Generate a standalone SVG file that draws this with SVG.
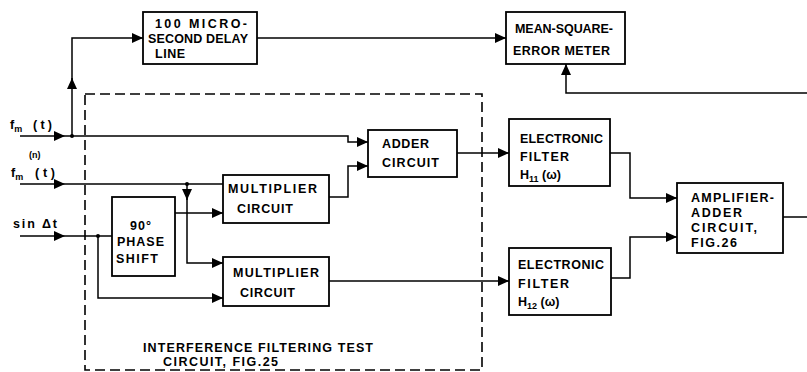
<svg xmlns="http://www.w3.org/2000/svg" width="807" height="372" viewBox="0 0 807 372">
<style>
.box{fill:#fff;stroke:#000;stroke-width:1.8}
.ln{fill:none;stroke:#000;stroke-width:1.5}
.dash{fill:none;stroke:#000;stroke-width:1.6;stroke-dasharray:10 5}
text{font-family:"Liberation Sans",Arial,sans-serif;font-weight:bold;font-size:12.5px;fill:#000}
.sm{font-size:9px}
</style>
<defs>
<marker id="a" markerUnits="userSpaceOnUse" markerWidth="12" markerHeight="10" refX="11" refY="5" orient="auto">
<path d="M0,0 L11,5 L0,10 Z" fill="#000"/>
</marker>
</defs>
<rect width="807" height="372" fill="#fff"/>
<g id="dashed-boundary">
<rect class="dash" x="85" y="94" width="397" height="276"/>
<text x="143" y="352" textLength="230" lengthAdjust="spacing">INTERFERENCE FILTERING TEST</text>
<text x="163" y="366" textLength="115" lengthAdjust="spacing">CIRCUIT, FIG.25</text>
</g>
<g id="connectors">
<path class="ln" d="M20,136 H65" marker-end="url(#a)"/>
<path class="ln" d="M65,136 H348 V142 H368" marker-end="url(#a)"/>
<path class="ln" d="M72,136 V78" marker-end="url(#a)"/>
<path class="ln" d="M72,80 V38 H143" marker-end="url(#a)"/>
<circle cx="72" cy="136" r="2"/>
<path class="ln" d="M257,38 H506" marker-end="url(#a)"/>
<path class="ln" d="M807,93 H566 V64" marker-end="url(#a)"/>
<path class="ln" d="M20,184 H65" marker-end="url(#a)"/>
<path class="ln" d="M65,184 H223"/>
<circle cx="187" cy="184" r="2"/>
<path class="ln" d="M187,184 V200" marker-end="url(#a)"/>
<path class="ln" d="M187,198 V263 H223" marker-end="url(#a)"/>
<path class="ln" d="M20,236 H65" marker-end="url(#a)"/>
<path class="ln" d="M65,236 H112"/>
<circle cx="98" cy="236" r="2"/>
<path class="ln" d="M98,236 V298 H223" marker-end="url(#a)"/>
<path class="ln" d="M175,213 H223" marker-end="url(#a)"/>
<path class="ln" d="M329,197 H348 V166 H368" marker-end="url(#a)"/>
<path class="ln" d="M457,153 H509" marker-end="url(#a)"/>
<path class="ln" d="M329,281 H509" marker-end="url(#a)"/>
<path class="ln" d="M610,153 H630 V198 H677" marker-end="url(#a)"/>
<path class="ln" d="M611,278 H630 V237 H677" marker-end="url(#a)"/>
<path class="ln" d="M783,217 H807"/>
</g>
<g id="inputs">
<text x="10" y="129">f<tspan class="sm" dy="3">m</tspan><tspan x="33" y="129" textLength="19" lengthAdjust="spacing">(t)</tspan></text>
<text x="11" y="177">f<tspan class="sm" dy="3">m</tspan><tspan class="sm" x="29" y="158">(n)</tspan><tspan x="35" y="177" textLength="20" lengthAdjust="spacing">(t)</tspan></text>
<text x="13" y="228" textLength="44" lengthAdjust="spacing">sin Δt</text>
</g>
<g id="delay-line">
<rect class="box" x="143" y="12" width="114" height="52"/>
<text x="155" y="28" textLength="92" lengthAdjust="spacing">100 MICRO-</text>
<text x="148" y="43" textLength="100" lengthAdjust="spacing">SECOND DELAY</text>
<text x="155" y="58" textLength="30" lengthAdjust="spacing">LINE</text>
</g>
<g id="mse-meter">
<rect class="box" x="506" y="12" width="119" height="52"/>
<text x="515" y="33" textLength="98" lengthAdjust="spacing">MEAN-SQUARE-</text>
<text x="513" y="55" textLength="97" lengthAdjust="spacing">ERROR METER</text>
</g>
<g id="phase-shift">
<rect class="box" x="112" y="197" width="63" height="79"/>
<text x="141" y="230" text-anchor="middle" font-size="14" letter-spacing="1">90°</text>
<text x="117" y="246" textLength="47" lengthAdjust="spacing">PHASE</text>
<text x="116" y="263" textLength="42" lengthAdjust="spacing">SHIFT</text>
</g>
<g id="multiplier-1">
<rect class="box" x="223" y="175" width="106" height="48"/>
<text x="228" y="193" textLength="89" lengthAdjust="spacing">MULTIPLIER</text>
<text x="237" y="213" textLength="56" lengthAdjust="spacing">CIRCUIT</text>
</g>
<g id="multiplier-2">
<rect class="box" x="223" y="257" width="106" height="49"/>
<text x="233" y="277" textLength="86" lengthAdjust="spacing">MULTIPLIER</text>
<text x="240" y="297" textLength="55" lengthAdjust="spacing">CIRCUIT</text>
</g>
<g id="adder">
<rect class="box" x="368" y="130" width="89" height="47"/>
<text x="382" y="148" textLength="47" lengthAdjust="spacing">ADDER</text>
<text x="382" y="167" textLength="57" lengthAdjust="spacing">CIRCUIT</text>
</g>
<g id="filter-h11">
<rect class="box" x="509" y="119" width="101" height="67"/>
<text x="520" y="143" textLength="83" lengthAdjust="spacing">ELECTRONIC</text>
<text x="520" y="161" textLength="49" lengthAdjust="spacing">FILTER</text>
<text x="520" y="179">H<tspan class="sm" dy="3">11</tspan><tspan dy="-3"> (ω)</tspan></text>
</g>
<g id="filter-h12">
<rect class="box" x="509" y="248" width="102" height="67"/>
<text x="518" y="269" textLength="86" lengthAdjust="spacing">ELECTRONIC</text>
<text x="518" y="288" textLength="51" lengthAdjust="spacing">FILTER</text>
<text x="518" y="306">H<tspan class="sm" dy="3">12</tspan><tspan dy="-3"> (ω)</tspan></text>
</g>
<g id="amplifier-adder">
<rect class="box" x="677" y="183" width="106" height="70"/>
<text x="691" y="202" textLength="83" lengthAdjust="spacing">AMPLIFIER-</text>
<text x="691" y="217" textLength="51" lengthAdjust="spacing">ADDER</text>
<text x="691" y="232" textLength="66" lengthAdjust="spacing">CIRCUIT,</text>
<text x="691" y="247" textLength="46" lengthAdjust="spacing">FIG.26</text>
</g>
</svg>
